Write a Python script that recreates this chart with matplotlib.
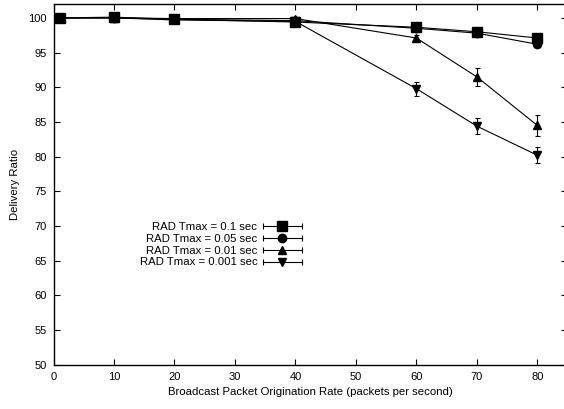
import numpy as np
import matplotlib.pyplot as plt
from matplotlib.lines import Line2D
from matplotlib.legend_handler import HandlerLine2D

plt.rcParams["font.family"] = ["Liberation Sans", "DejaVu Sans"]

# Datos
tasa = [1, 10, 20, 40, 60, 70, 80]

etiquetas = [
    "RAD Tmax = 0.1 sec",
    "RAD Tmax = 0.05 sec",
    "RAD Tmax = 0.01 sec",
    "RAD Tmax = 0.001 sec",
]

ratio_01 = [100.0, 100.1, 99.8, 99.4, 98.65, 98.0, 97.1]
ratio_005 = [100.0, 100.0, 99.8, 99.6, 98.5, 97.8, 96.2]
ratio_001 = [100.0, 100.0, 99.9, 99.9, 97.1, 91.5, 84.5]
ratio_0001 = [100.0, 100.0, 99.7, 99.5, 89.8, 84.4, 80.2]

err_01 = [0.05, 0.05, 0.05, 0.1, 0.1, 0.1, 0.2]
err_005 = [0.05, 0.05, 0.05, 0.1, 0.1, 0.2, 0.3]
err_001 = [0.05, 0.05, 0.05, 0.1, 0.4, 1.3, 1.5]
err_0001 = [0.05, 0.05, 0.1, 0.1, 1.0, 1.15, 1.15]

series = [ratio_01, ratio_005, ratio_001, ratio_0001]
errores = [err_01, err_005, err_001, err_0001]
marcadores = ["s", "o", "^", "v"]
tamanos = [7.0, 6.0, 6.0, 6.0]

fig = plt.figure(figsize=(5.64, 4.09), dpi=100)
ax = fig.add_axes([0.0949, 0.1083, 0.9113, 0.8819])

handles = []
handler_map = {}
for y, e, m, ms in zip(series, errores, marcadores, tamanos):
    ax.errorbar(
        tasa, y, yerr=e,
        color="black", lw=0.8, marker=m, markersize=ms,
        elinewidth=0.8, capsize=1.8, capthick=0.8,
    )
    # muestra de leyenda estilo gnuplot: barra horizontal con topes
    topes = Line2D([], [], color="black", lw=0.8, marker="|",
                   markersize=4, markeredgewidth=0.8)
    punto = Line2D([], [], color="black", lw=0, marker=m, markersize=ms)
    handler_map[topes] = HandlerLine2D(numpoints=2, marker_pad=0)
    handles.append((topes, punto))

ax.legend(
    handles, etiquetas, handler_map=handler_map,
    loc="center right", bbox_to_anchor=(0.483, 0.333),
    markerfirst=False, frameon=False, fontsize=8.2,
    handlelength=3.4, handletextpad=0.5, labelspacing=0.17,
    borderpad=0, borderaxespad=0,
)

ax.set_xlim(0, 85)
ax.set_ylim(50, 102)
ax.set_xticks(np.arange(0, 81, 10))
ax.set_yticks(np.arange(50, 101, 5))
ax.tick_params(direction="in", length=4, width=0.8, top=True, right=True,
               labelsize=8, pad=5)
for s in ax.spines.values():
    s.set_linewidth(1.0)

ax.set_xlabel("Broadcast Packet Origination Rate (packets per second)",
              fontsize=8.2, labelpad=4)
ax.set_ylabel("Delivery Ratio", fontsize=8.2, labelpad=6)

fig.savefig("out.png", dpi=100)
